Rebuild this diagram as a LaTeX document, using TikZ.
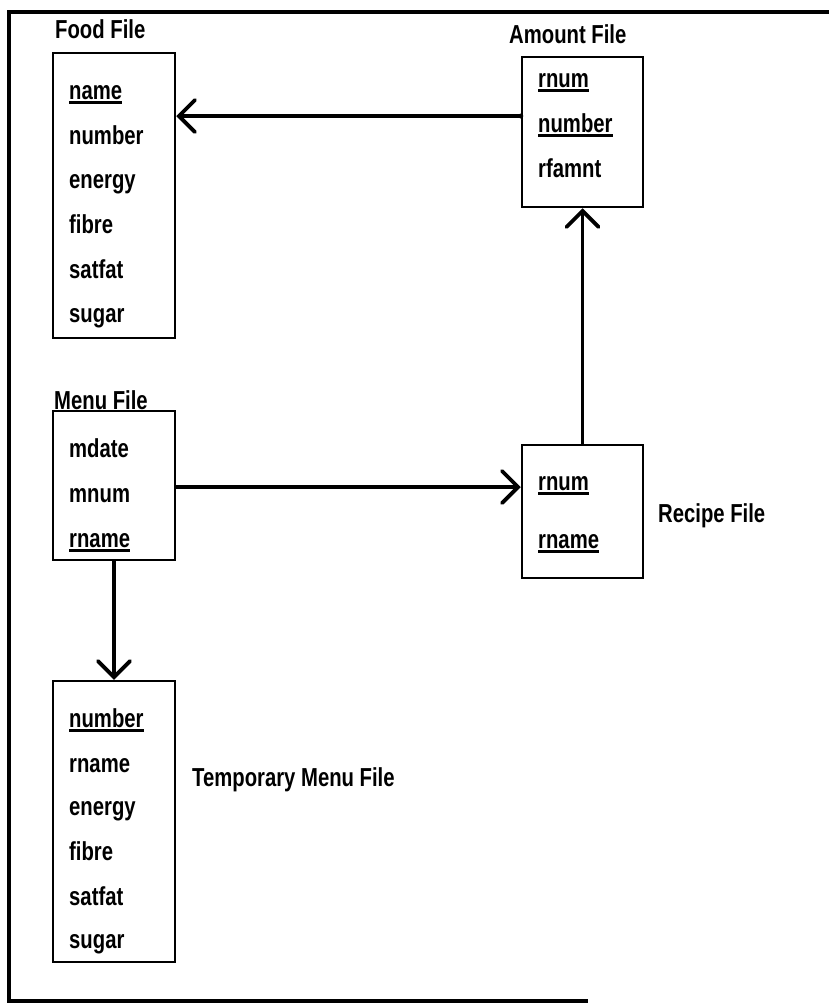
\documentclass[tikz,border=0pt]{standalone}
\usepackage{fontspec}
\setmainfont[FakeStretch=0.78]{Liberation Sans Bold}
\usetikzlibrary{arrows.meta}
\newcommand\ukey[1]{\setbox0\hbox{#1}\rlap{\rule[-4.5pt]{\wd0}{2.2pt}}\box0}
\tikzset{
  filebox/.style={draw, line width=2.5pt, inner sep=0pt},
  fld/.style={anchor=base west, inner sep=0pt, font=\fontsize{26}{29}\selectfont},
  lbl/.style={anchor=base west, inner sep=0pt, font=\fontsize{26}{29}\selectfont},
  conn/.style={line width=3.8pt, line cap=round, line join=round},
  tip/.style={-{Straight Barb[length=16pt,width=32pt,line cap=round]}}
}
\begin{document}
\begin{tikzpicture}[x=1pt,y=-1pt]
\useasboundingbox (0,0) rectangle (829,1004);
\draw[line width=4pt] (829,12) -- (9,12) -- (9,1001) -- (588,1001);

% boxes
\node[filebox, minimum width=122pt, minimum height=285pt] (food) at (114,195.5) {};
\node[filebox, minimum width=121pt, minimum height=150pt] (amount) at (582.5,132) {};
\node[filebox, minimum width=122pt, minimum height=149pt] (menu) at (114,485.5) {};
\node[filebox, minimum width=121pt, minimum height=133pt] (recipe) at (582.5,511.5) {};
\node[filebox, minimum width=122pt, minimum height=281pt] (temp) at (114,821.5) {};

% titles
\node[lbl] (tfood) at (55,38) {Food File};
\node[lbl] (tamount) at (509,43) {Amount File};
\node[lbl] (tmenu) at (54,409) {Menu File};
\node[lbl] (trecipe) at (658,522) {Recipe File};
\node[lbl] (ttemp) at (192,786) {Temporary Menu File};

% food fields
\node[fld] (f1) at (69,99) {\ukey{name}};
\node[fld] (f2) at (69,144) {number};
\node[fld] (f3) at (69,188) {energy};
\node[fld] (f4) at (69,233) {fibre};
\node[fld] (f5) at (69,278) {satfat};
\node[fld] (f6) at (69,322) {sugar};

% amount fields
\node[fld] (a1) at (538,87) {\ukey{rnum}};
\node[fld] (a2) at (538,132) {\ukey{number}};
\node[fld] (a3) at (538,177) {rfamnt};

% menu fields
\node[fld] (m1) at (69,457) {mdate};
\node[fld] (m2) at (69,502) {mnum};
\node[fld] (m3) at (69,547) {\ukey{rname}};

% recipe fields
\node[fld] (r1) at (538,490) {\ukey{rnum}};
\node[fld] (r2) at (538,548) {\ukey{rname}};

% temporary fields
\node[fld] (t1) at (69,727) {\ukey{number}};
\node[fld] (t2) at (69,772) {rname};
\node[fld] (t3) at (69,815) {energy};
\node[fld] (t4) at (69,860) {fibre};
\node[fld] (t5) at (69,905) {satfat};
\node[fld] (t6) at (69,948) {sugar};

% connectors
\draw[conn, tip] ([yshift=16pt]amount.west) coordinate (s1) -- (s1 -| food.east);
\fill (s1) circle (2.5pt);
\draw[conn, tip] (recipe.north) -- (amount.south);
\draw[conn, tip] ([yshift=-1.5pt]menu.east) coordinate (s3) -- (s3 -| recipe.west);
\draw[conn, tip] (menu.south) -- (temp.north);
\end{tikzpicture}
\end{document}
